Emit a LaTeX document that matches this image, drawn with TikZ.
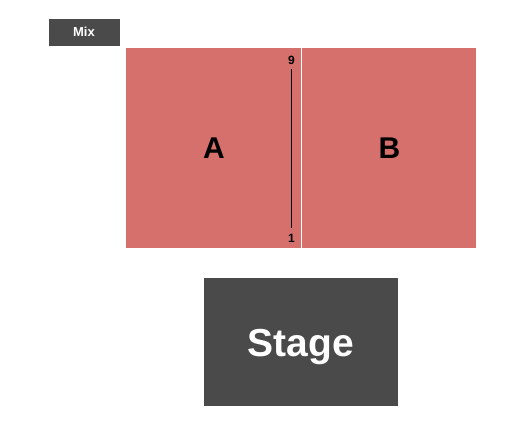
\documentclass[tikz,border=0pt]{standalone}
\usepackage{fontspec}
\setmainfont{Liberation Sans}
\definecolor{secteur}{RGB}{214,112,109}
\definecolor{gris}{RGB}{74,74,74}
\tikzset{
  etiquette/.style={inner sep=0pt,anchor=base,font=\bfseries\fontsize{#1}{#1}\selectfont},
  rang/.style={inner sep=0pt,anchor=base,font=\bfseries\fontsize{12}{12}\selectfont}
}
\begin{document}
\begin{tikzpicture}[x=1pt,y=-1pt]
\useasboundingbox[fill=white] (0,0) rectangle (525,425);
\fill[gris] (49,19) rectangle (120,46); %Mix
\node[etiquette=13,white] (mix) at (84,37) {Mix};
\fill[secteur] (126,48) rectangle (300.5,247.5); %Section A
\fill[secteur] (302,48) rectangle (476,247.5); %Section B
\node[etiquette=30] (secA) at (214,159) {A};
\node[etiquette=30] (secB) at (389.5,159) {B};
\node[rang] (nine) at (291.5,65) {9};
\node[rang] (one) at (291.5,242) {1};
\draw[line width=1pt,shorten <=4pt,shorten >=6pt] (nine.south) -- (one.north); %Rangees
\fill[gris] (204,278) rectangle (398,406); %Scene
\node[etiquette=39,white] (stage) at (301,356) {Stage};
\end{tikzpicture}
\end{document}
